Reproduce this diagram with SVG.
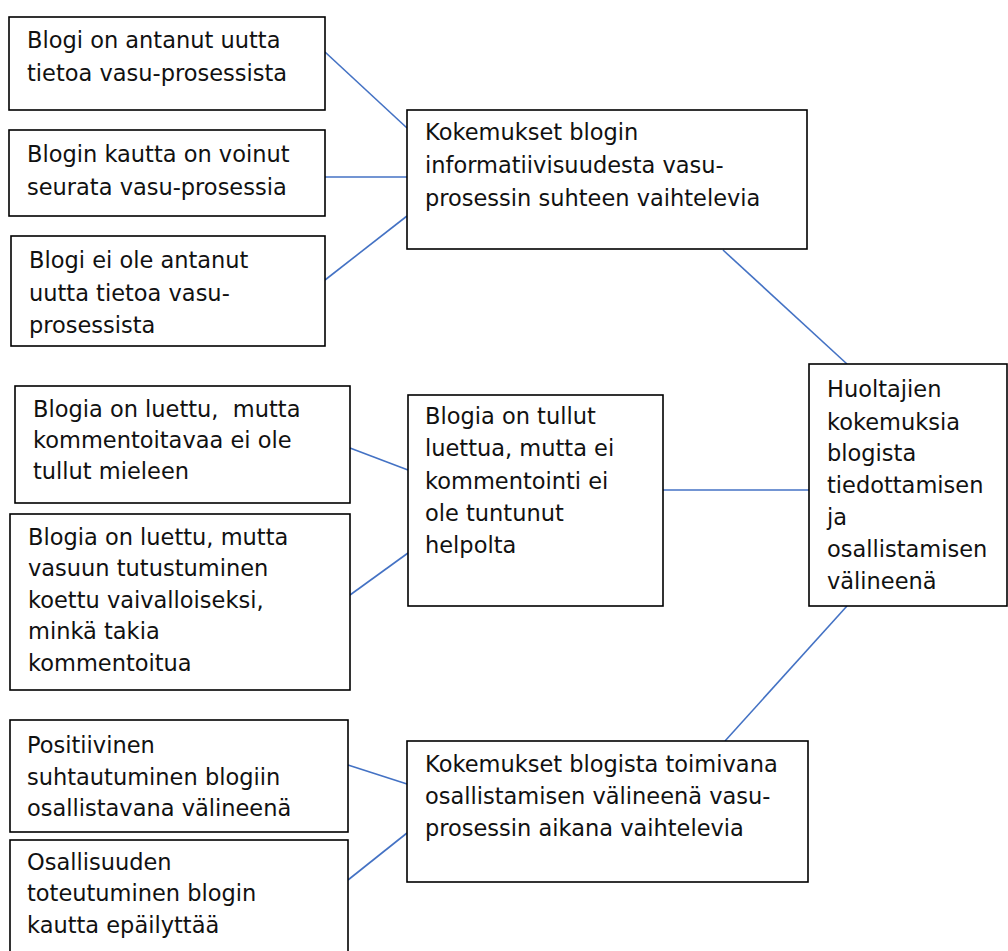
<svg xmlns="http://www.w3.org/2000/svg" width="1008" height="951" viewBox="0 0 1008 951">
<style>
.box{fill:#fff;stroke:#000;stroke-width:1.6}
.t{font-family:"DejaVu Sans",Verdana,sans-serif;font-size:22.5px;fill:#111;white-space:pre}
.c{stroke:#4472C4;stroke-width:1.6;fill:none}
</style>
<rect width="1008" height="951" fill="#fff"/>
<g id="connectors">
<line class="c" x1="325" y1="52" x2="407" y2="128"/>
<line class="c" x1="325" y1="177" x2="407" y2="177"/>
<line class="c" x1="325" y1="280" x2="407" y2="216"/>
<line class="c" x1="723" y1="250" x2="847" y2="364"/>
<line class="c" x1="663" y1="490" x2="809" y2="490"/>
<line class="c" x1="350" y1="448" x2="408" y2="470"/>
<line class="c" x1="350" y1="595" x2="408" y2="553"/>
<line class="c" x1="847" y1="606" x2="725" y2="741"/>
<line class="c" x1="348" y1="765" x2="407" y2="784"/>
<line class="c" x1="348" y1="880" x2="407" y2="833"/>
</g>
<g id="n1"><rect class="box" x="9" y="17" width="316" height="93"/>
<text class="t" x="27" y="48">Blogi on antanut uutta</text><text class="t" x="27" y="81">tietoa vasu-prosessista</text></g>
<g id="n2"><rect class="box" x="9" y="130" width="316" height="86"/>
<text class="t" x="27" y="162">Blogin kautta on voinut</text><text class="t" x="27" y="195">seurata vasu-prosessia</text></g>
<g id="n3"><rect class="box" x="11" y="236" width="314" height="110"/>
<text class="t" x="29" y="268">Blogi ei ole antanut</text><text class="t" x="29" y="301">uutta tietoa vasu-</text><text class="t" x="29" y="333">prosessista</text></g>
<g id="n4"><rect class="box" x="407" y="110" width="400" height="139"/>
<text class="t" x="425" y="140">Kokemukset blogin</text><text class="t" x="425" y="173">informatiivisuudesta vasu-</text><text class="t" x="425" y="206">prosessin suhteen vaihtelevia</text></g>
<g id="n5"><rect class="box" x="809" y="364" width="198" height="242"/>
<text class="t" x="827" y="397">Huoltajien</text><text class="t" x="827" y="430">kokemuksia</text><text class="t" x="827" y="461">blogista</text><text class="t" x="827" y="493">tiedottamisen</text><text class="t" x="827" y="525">ja</text><text class="t" x="827" y="557">osallistamisen</text><text class="t" x="827" y="589">välineenä</text></g>
<g id="n6"><rect class="box" x="15" y="386" width="335" height="117"/>
<text class="t" x="33" y="417">Blogia on luettu,  mutta</text><text class="t" x="33" y="448">kommentoitavaa ei ole</text><text class="t" x="33" y="479">tullut mieleen</text></g>
<g id="n7"><rect class="box" x="10" y="514" width="340" height="176"/>
<text class="t" x="28" y="545">Blogia on luettu, mutta</text><text class="t" x="28" y="576">vasuun tutustuminen</text><text class="t" x="28" y="608">koettu vaivalloiseksi,</text><text class="t" x="28" y="639">minkä takia</text><text class="t" x="28" y="671">kommentoitua</text></g>
<g id="n8"><rect class="box" x="408" y="395" width="255" height="211"/>
<text class="t" x="425" y="424">Blogia on tullut</text><text class="t" x="425" y="456">luettua, mutta ei</text><text class="t" x="425" y="489">kommentointi ei</text><text class="t" x="425" y="521">ole tuntunut</text><text class="t" x="425" y="553">helpolta</text></g>
<g id="n9"><rect class="box" x="10" y="720" width="338" height="112"/>
<text class="t" x="27" y="753">Positiivinen</text><text class="t" x="27" y="785">suhtautuminen blogiin</text><text class="t" x="27" y="816">osallistavana välineenä</text></g>
<g id="n10"><rect class="box" x="10" y="840" width="338" height="115"/>
<text class="t" x="27" y="870">Osallisuuden</text><text class="t" x="27" y="901">toteutuminen blogin</text><text class="t" x="27" y="933">kautta epäilyttää</text></g>
<g id="n11"><rect class="box" x="407" y="741" width="401" height="141"/>
<text class="t" x="425" y="772">Kokemukset blogista toimivana</text><text class="t" x="425" y="804">osallistamisen välineenä vasu-</text><text class="t" x="425" y="836">prosessin aikana vaihtelevia</text></g>
</svg>
